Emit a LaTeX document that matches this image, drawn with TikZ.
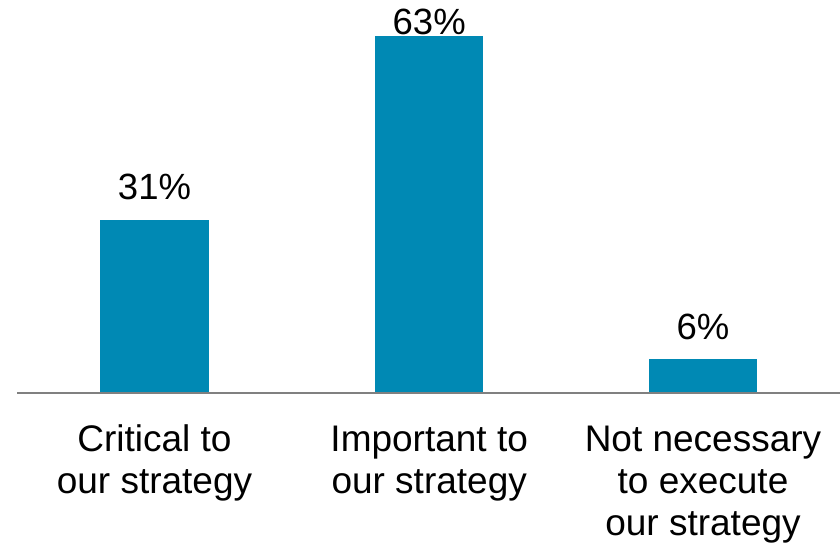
\documentclass[tikz,border=0pt]{standalone}
\usepackage{fontspec}
\setmainfont{Liberation Sans}
\definecolor{barblue}{RGB}{0,137,180}
\definecolor{axisgray}{RGB}{128,128,128}
\begin{document}
\begin{tikzpicture}[x=1pt,y=-1pt,
  bar/.style={fill=barblue,draw=none},
  pct/.style={anchor=base,inner sep=0pt,font=\fontsize{36.5}{42}\selectfont},
  cat/.style={anchor=base,inner sep=0pt,align=center,font=\fontsize{37}{42}\selectfont}]
\useasboundingbox (0,0) rectangle (840,543);
% bars
\path[bar] (100.3,220) rectangle (208.7,392.5);
\path[bar] (375,36) rectangle (483.3,392.5);
\path[bar] (649.3,359.3) rectangle (756.7,392.5);
% axis
\coordinate (axL) at (17,393);
\coordinate (axR) at (840,393);
\draw[axisgray,line width=2pt] (axL) -- (axR);
% values
\node[pct] (v1) at (154.5,199.5) {31\%};
\node[pct] (v2) at (429.2,35) {63\%};
\node[pct] (v3) at (703,339.3) {6\%};
% categories (base anchor = baseline of the last line)
\node[cat] (c1) at (154.5,493.5) {Critical to\\our strategy};
\node[cat] (c2) at (429.2,493.5) {Important to\\our strategy};
\node[cat] (c3) at (703,535.5) {Not necessary\\to execute\\our strategy};
\end{tikzpicture}
\end{document}
